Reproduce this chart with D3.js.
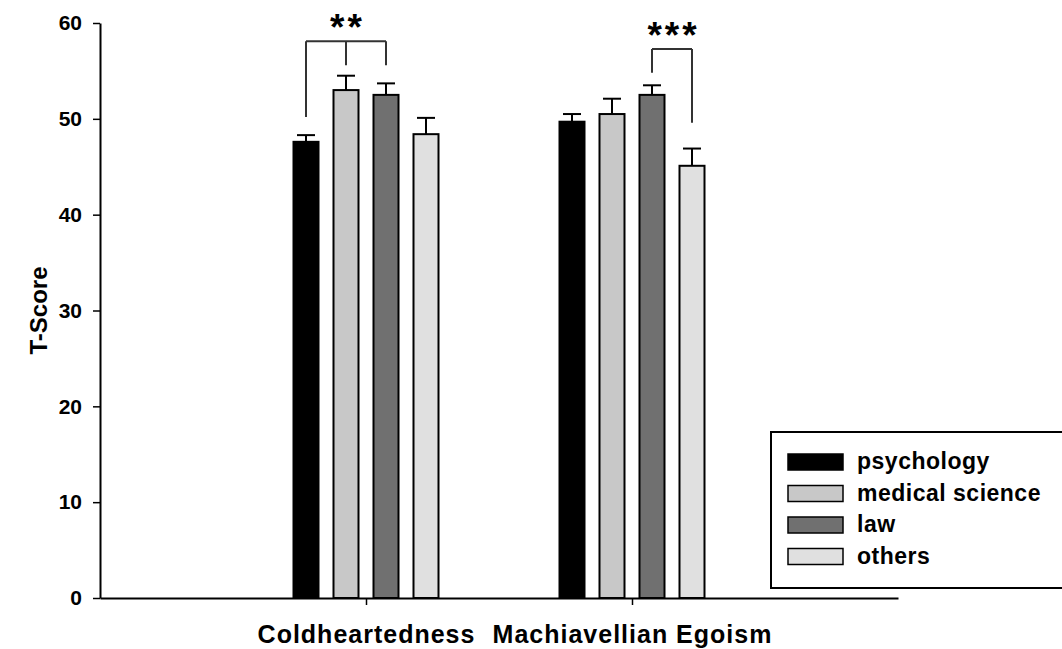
<!DOCTYPE html>
<html><head><meta charset="utf-8">
<script src="https://cdn.jsdelivr.net/npm/d3@7"></script>
<style>body{margin:0;background:#fff}svg{display:block}text{font-family:"Liberation Sans",Arial,sans-serif}</style>
</head><body><svg id="c" width="1062" height="649"></svg>
<script>
const categories = ["Coldheartedness", "Machiavellian Egoism"];
const groups = ["psychology", "medical science", "law", "others"];
const means = {
  "Coldheartedness":      [47.6, 53.0, 52.5, 48.4],
  "Machiavellian Egoism": [49.7, 50.5, 52.5, 45.1]
};
const errors = {
  "Coldheartedness":      [0.7, 1.5, 1.2, 1.7],
  "Machiavellian Egoism": [0.8, 1.6, 1.0, 1.8]
};
const colors = ["#000000", "#c8c8c8", "#707070", "#e0e0e0"];
const yTicks = [0, 10, 20, 30, 40, 50, 60];
// significance brackets: category, group indices, label, bracket level, leg end values
const sigs = [
  {cat: "Coldheartedness", idx: [0, 1, 2], label: "**", level: 58.1, ends: [50.2, 55.6, 55.6]},
  {cat: "Machiavellian Egoism", idx: [2, 3], label: "***", level: 57.3, ends: [54.8, 49.6]}
];

const svg = d3.select("#c");
const x0 = 100, x1 = 898;
const y = d3.scaleLinear().domain([0, 60]).range([598, 23]);
const x = d3.scalePoint().domain(categories).range([x0, x1]).padding(1);
const xs = d3.scaleBand().domain(groups).range([-72.5, 72.5]).paddingInner(0.375).paddingOuter(0);

// y axis
const ya = svg.append("g").attr("transform", `translate(${x0},0)`)
  .call(d3.axisLeft(y).tickValues(yTicks).tickSize(7).tickSizeOuter(0).tickPadding(11));
ya.select(".domain").attr("stroke", "#000").attr("stroke-width", 2);
ya.selectAll(".tick line").attr("stroke", "#000").attr("stroke-width", 1.5);
ya.selectAll(".tick text").attr("font-size", 21).attr("font-weight", "bold").attr("fill", "#000");

// x axis
const xa = svg.append("g").attr("transform", `translate(0,${y(0)})`)
  .call(d3.axisBottom(x).tickSize(7).tickSizeOuter(0));
xa.select(".domain").attr("stroke", "#000").attr("stroke-width", 2);
xa.selectAll(".tick line").attr("stroke", "#000").attr("stroke-width", 1.5);
xa.selectAll(".tick text").attr("font-size", 25).attr("font-weight", "bold").attr("fill", "#000")
  .attr("letter-spacing", 1).attr("y", 45).attr("dy", 0);

svg.append("text").attr("transform", `translate(47,${y(30)}) rotate(-90)`)
  .attr("text-anchor", "middle").attr("font-size", 24).attr("font-weight", "bold").text("T-Score");

// bars
categories.forEach(cat => {
  const g = svg.append("g").attr("transform", `translate(${x(cat)},0)`);
  groups.forEach((grp, i) => {
    const m = means[cat][i], e = errors[cat][i];
    const cx = xs(grp) + xs.bandwidth() / 2;
    g.append("line").attr("x1", cx).attr("x2", cx).attr("y1", y(m)).attr("y2", y(m + e))
      .attr("stroke", "#000").attr("stroke-width", 2);
    g.append("line").attr("x1", cx - 9).attr("x2", cx + 9).attr("y1", y(m + e)).attr("y2", y(m + e))
      .attr("stroke", "#000").attr("stroke-width", 2);
    g.append("rect").attr("x", xs(grp)).attr("width", xs.bandwidth())
      .attr("y", y(m)).attr("height", y(0) - y(m))
      .attr("fill", colors[i]).attr("stroke", "#000").attr("stroke-width", 2);
  });
});

// significance brackets
sigs.forEach(s => {
  const base = x(s.cat);
  const cxs = s.idx.map(i => base + xs(groups[i]) + xs.bandwidth() / 2);
  const yl = y(s.level);
  svg.append("line").attr("x1", cxs[0]).attr("x2", cxs[cxs.length - 1]).attr("y1", yl).attr("y2", yl)
    .attr("stroke", "#333").attr("stroke-width", 2);
  s.idx.forEach((i, k) => {
    svg.append("line").attr("x1", cxs[k]).attr("x2", cxs[k]).attr("y1", yl).attr("y2", y(s.ends[k]))
      .attr("stroke", "#333").attr("stroke-width", 2);
  });
  svg.append("text").attr("x", (cxs[0] + cxs[cxs.length - 1]) / 2 + 1.5).attr("y", yl - 1)
    .attr("text-anchor", "middle").attr("font-size", 37).attr("font-weight", "bold")
    .attr("letter-spacing", 3).text(s.label);
});

// legend
const lg = svg.append("g").attr("transform", "translate(771,432)");
lg.append("rect").attr("x", 0).attr("y", 0).attr("width", 300).attr("height", 156)
  .attr("fill", "#fff").attr("stroke", "#000").attr("stroke-width", 2);
groups.forEach((grp, i) => {
  const ry = 30 + i * 31.5;
  lg.append("rect").attr("x", 17).attr("y", ry - 8).attr("width", 55).attr("height", 16)
    .attr("fill", colors[i]).attr("stroke", "#000").attr("stroke-width", 1.5);
  lg.append("text").attr("x", 86).attr("y", ry + 7).attr("font-size", 23).attr("font-weight", "bold")
    .attr("letter-spacing", 0.5).text(grp);
});
</script></body></html>
